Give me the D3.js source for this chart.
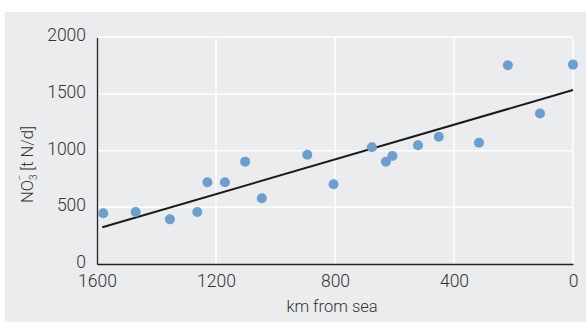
<!DOCTYPE html>
<html>
<head>
<meta charset="utf-8">
<script src="https://cdn.jsdelivr.net/npm/d3@7"></script>
<style>
  body { margin: 0; background: #fff; }
  svg text { font-family: Roboto, "Liberation Sans", sans-serif; font-weight: 300; fill: #333; }
</style>
</head>
<body>
<div id="chart"></div>
<script>
// distance from the sea (km) and nitrate load (t N/d)
var km      = [1579, 1470, 1355, 1263, 1229, 1170, 1102, 1046, 893, 805, 676, 629, 607, 521, 451, 316, 219, 111, 0];
var nitrate = [447, 459, 394, 459, 721, 721, 903, 580, 964, 704, 1030, 903, 953, 1047, 1123, 1070, 1753, 1327, 1759];

// trend line end points
var trendKm  = [1582, 0];
var trendVal = [324, 1535];

var xTicks = [1600, 1200, 800, 400, 0];
var yTicks = [0, 500, 1000, 1500, 2000];

var width = 586, height = 322;
var plotLeft = 97, plotRight = 573, plotTop = 37.3, plotBottom = 264;

var svg = d3.select("#chart").append("svg")
    .attr("width", width)
    .attr("height", height);

// grey panel behind the chart
svg.append("rect")
    .attr("x", 5).attr("y", 12)
    .attr("width", width - 5).attr("height", height - 12)
    .attr("fill", "#ebeced");

var x = d3.scaleLinear().domain([1600, 0]).range([plotLeft, plotRight]);
var y = d3.scaleLinear().domain([0, 2000]).range([plotBottom, plotTop]);

// grid
svg.append("g").selectAll("line")
    .data(yTicks.slice(1))
    .enter().append("line")
    .attr("x1", plotLeft).attr("x2", plotRight)
    .attr("y1", function(d) { return y(d); })
    .attr("y2", function(d) { return y(d); })
    .attr("stroke", "#fff").attr("stroke-width", 1.5);

svg.append("g").selectAll("line")
    .data(xTicks.slice(1))
    .enter().append("line")
    .attr("x1", function(d) { return x(d); })
    .attr("x2", function(d) { return x(d); })
    .attr("y1", plotTop).attr("y2", plotBottom)
    .attr("stroke", "#fff").attr("stroke-width", 1.5);

// axes
var xAxis = d3.axisBottom(x).tickValues(xTicks).tickFormat(d3.format("d")).tickSize(0).tickPadding(0);
var yAxis = d3.axisLeft(y).tickValues(yTicks).tickFormat(d3.format("d")).tickSize(0).tickPadding(0);

var gx = svg.append("g")
    .attr("transform", "translate(0," + plotBottom + ")")
    .call(xAxis);
gx.select(".domain").attr("stroke", "#222").attr("stroke-width", 1.3);
gx.selectAll("text")
    .attr("dy", null).attr("y", 23)
    .attr("fill", "#333")
    .style("font-size", "17.5px");

var gy = svg.append("g")
    .attr("transform", "translate(" + plotLeft + ",0)")
    .call(yAxis);
gy.select(".domain").attr("stroke", "#222").attr("stroke-width", 1.3);
gy.selectAll("text")
    .attr("dy", null).attr("y", 3.5).attr("x", -11)
    .attr("fill", "#333")
    .style("font-size", "17.5px");

// trend line
svg.append("line")
    .attr("x1", x(trendKm[0])).attr("y1", y(trendVal[0]))
    .attr("x2", x(trendKm[1])).attr("y2", y(trendVal[1]))
    .attr("stroke", "#1a1a1a").attr("stroke-width", 2);

// points
svg.append("g").selectAll("circle")
    .data(km)
    .enter().append("circle")
    .attr("cx", function(d) { return x(d); })
    .attr("cy", function(d, i) { return y(nitrate[i]); })
    .attr("r", 5)
    .attr("fill", "#6a9fce");

// axis titles
svg.append("text")
    .attr("x", (plotLeft + plotRight) / 2 - 3)
    .attr("y", 312)
    .attr("text-anchor", "middle")
    .style("font-size", "16.5px")
    .text("km from sea");

var ylab = svg.append("text")
    .attr("transform", "translate(33,203) rotate(-90)")
    .attr("text-anchor", "start")
    .style("font-size", "16.5px");
ylab.append("tspan").text("NO");
ylab.append("tspan").attr("dy", 4).style("font-size", "10px").text("3");
ylab.append("tspan").attr("dx", -6).attr("dy", -14).style("font-size", "10px").text("\u2212");
ylab.append("tspan").attr("dy", 10).text(" [t N/d]");
</script>
</body>
</html>
